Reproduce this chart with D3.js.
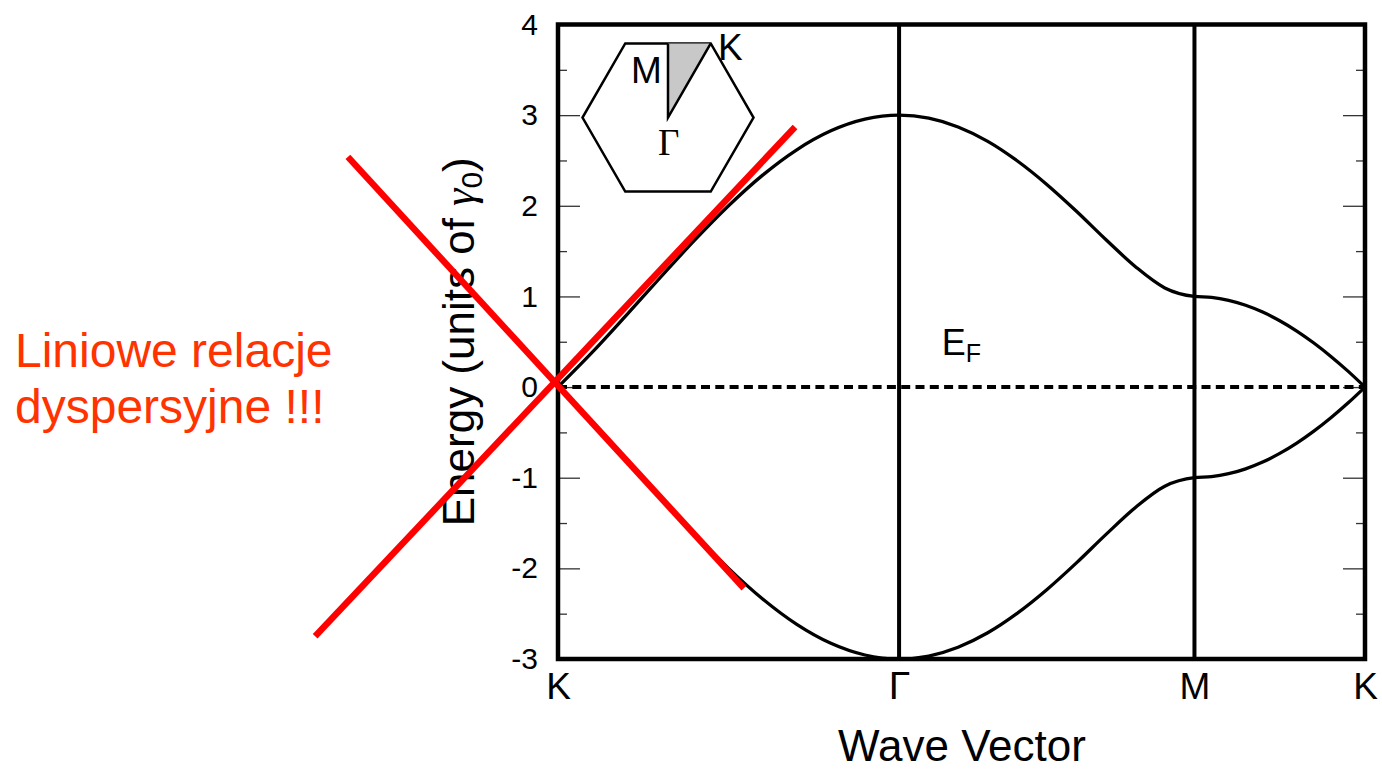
<!DOCTYPE html>
<html>
<head>
<meta charset="utf-8">
<script src="https://cdn.jsdelivr.net/npm/d3@7"></script>
<style>
  html, body { margin: 0; padding: 0; background: #ffffff; }
  svg { display: block; }
  text { font-family: "Liberation Sans", Arial, sans-serif; fill: #000; }
  .serif { font-family: "Liberation Serif", "Times New Roman", serif; }
</style>
</head>
<body>
<svg id="chart" width="1382" height="771"></svg>
<script>
// Path through the Brillouin zone, in units of |ΓK|: K -> Γ -> M -> K
const kPath = [
  0, 0.1, 0.2, 0.3, 0.4, 0.5, 0.6, 0.7, 0.8, 0.9, 1.0,
  1.087, 1.173, 1.260, 1.346, 1.433, 1.520, 1.606, 1.693, 1.779, 1.866,
  1.916, 1.966, 2.016, 2.066, 2.116, 2.166, 2.216, 2.266, 2.316, 2.366
];
// π* band (units of γ0)
const conduction = [
  0, 0.382, 0.791, 1.209, 1.618, 2.0, 2.338, 2.618, 2.827, 2.956, 3.0,
  2.967, 2.870, 2.711, 2.497, 2.236, 1.940, 1.628, 1.328, 1.094, 1.0,
  0.989, 0.956, 0.902, 0.827, 0.732, 0.618, 0.486, 0.338, 0.176, 0
];
// π band (units of γ0)
const valence = [
  0, -0.382, -0.791, -1.209, -1.618, -2.0, -2.338, -2.618, -2.827, -2.956, -3.0,
  -2.967, -2.870, -2.711, -2.497, -2.236, -1.940, -1.628, -1.328, -1.094, -1.0,
  -0.989, -0.956, -0.902, -0.827, -0.732, -0.618, -0.486, -0.338, -0.176, 0
];
// High-symmetry points
const symLabels = ["K", "Γ", "M", "K"];
const symPositions = [0, 1, 1.866, 2.366];
// Energy axis ticks
const yMajorTicks = [-3, -2, -1, 0, 1, 2, 3, 4];
const yMinorTicks = [-2.5, -1.5, -0.5, 0.5, 1.5, 2.5, 3.5];
// Linear (Dirac cone) dispersion through K, endpoints as [k, E]
const diracLineDown = [[-0.616, 2.54], [0.545, -2.22]];
const diracLineUp = [[-0.712, -2.75], [0.695, 2.87]];
const fermiLevel = 0;

const svg = d3.select("#chart");
const plot = { left: 558, right: 1365, top: 24.5, bottom: 659 };

const x = d3.scaleLinear().domain([0, 2.366]).range([plot.left, plot.right]);
const y = d3.scaleLinear().domain([-3, 4]).range([plot.bottom, plot.top]);

// Inner ticks on left and right
const leftMajor = d3.axisLeft(y).tickValues(yMajorTicks).tickSizeInner(-22).tickSizeOuter(0).tickPadding(20).tickFormat(d => String(d));
const leftMinor = d3.axisLeft(y).tickValues(yMinorTicks).tickSizeInner(-9).tickSizeOuter(0).tickFormat("");
const rightMajor = d3.axisRight(y).tickValues(yMajorTicks).tickSizeInner(-22).tickSizeOuter(0).tickFormat("");
const rightMinor = d3.axisRight(y).tickValues(yMinorTicks).tickSizeInner(-9).tickSizeOuter(0).tickFormat("");

function styleAxis(g) {
  g.select(".domain").remove();
  g.selectAll(".tick line").attr("stroke", "#333").attr("stroke-width", 1.3);
  g.selectAll(".tick text")
    .attr("font-size", 30)
    .attr("font-family", "'Liberation Sans', Arial, sans-serif")
    .attr("fill", "#000");
}

svg.append("g").attr("transform", `translate(${plot.left},0)`).call(leftMajor).call(styleAxis);
svg.append("g").attr("transform", `translate(${plot.left},0)`).call(leftMinor).call(styleAxis);
svg.append("g").attr("transform", `translate(${plot.right},0)`).call(rightMajor).call(styleAxis);
svg.append("g").attr("transform", `translate(${plot.right},0)`).call(rightMinor).call(styleAxis);

// Bottom axis: high-symmetry point labels
const xAxis = d3.axisBottom(x).tickValues(symPositions).tickSize(0)
  .tickFormat((d, i) => symLabels[i]);
const xg = svg.append("g").attr("transform", `translate(0,${plot.bottom})`).call(xAxis);
xg.select(".domain").remove();
xg.selectAll(".tick text")
  .attr("y", 40).attr("dy", 0)
  .attr("fill", "#000")
  .attr("font-family", d => d === 1 ? "'Liberation Serif', 'Times New Roman', serif" : "'Liberation Sans', Arial, sans-serif")
  .attr("font-size", d => d === 1 ? 39 : 37);

// Vertical lines at Γ and M
svg.append("g").selectAll("line")
  .data(symPositions.slice(1, 3))
  .join("line")
  .attr("x1", d => x(d)).attr("x2", d => x(d))
  .attr("y1", y(4)).attr("y2", y(-3))
  .attr("stroke", "#000").attr("stroke-width", 4);

// Fermi level
svg.append("line")
  .attr("x1", x(0)).attr("x2", x(2.366))
  .attr("y1", y(fermiLevel)).attr("y2", y(fermiLevel))
  .attr("stroke", "#000").attr("stroke-width", 4)
  .attr("stroke-dasharray", "9,5.3");

// Bands
const bandLine = d3.line()
  .x((d, i) => x(kPath[i]))
  .y(d => y(d))
  .curve(d3.curveMonotoneX);

svg.append("g").selectAll("path")
  .data([conduction, valence])
  .join("path")
  .attr("d", bandLine)
  .attr("fill", "none")
  .attr("stroke", "#000")
  .attr("stroke-width", 3.3);

// Frame
svg.append("rect")
  .attr("x", plot.left).attr("y", plot.top)
  .attr("width", plot.right - plot.left).attr("height", plot.bottom - plot.top)
  .attr("fill", "none").attr("stroke", "#000").attr("stroke-width", 4.5);

// E_F label
const ef = svg.append("text")
  .attr("x", x(1.125)).attr("y", y(0.35))
  .attr("font-size", 36);
ef.append("tspan").text("E");
ef.append("tspan").attr("dy", 7).attr("font-size", 25).text("F");

// Axis titles
svg.append("text")
  .attr("x", (plot.left + plot.right) / 2 + 0.5)
  .attr("y", 761)
  .attr("text-anchor", "middle")
  .attr("font-size", 44)
  .text("Wave Vector");

const ylab = svg.append("text")
  .attr("transform", `translate(474,${(plot.top + plot.bottom) / 2}) rotate(-90)`)
  .attr("text-anchor", "middle")
  .attr("font-size", 44);
ylab.append("tspan").text("Energy (units of ");
ylab.append("tspan").attr("class", "serif").attr("font-style", "italic").text("γ");
ylab.append("tspan").attr("dy", 8).attr("font-size", 30).text("0");
ylab.append("tspan").attr("dy", -8).text(")");

// Brillouin-zone inset (hexagon with irreducible wedge)
const inset = svg.append("g").attr("transform", "translate(668,117.5)");
const R = 85.5;
const hex = d3.range(6).map(i => [R * Math.cos(i * Math.PI / 3), R * Math.sin(i * Math.PI / 3)]);
inset.append("polygon")
  .attr("points", hex.map(p => p.join(",")).join(" "))
  .attr("fill", "none").attr("stroke", "#000").attr("stroke-width", 2.5);
const gPt = [0, 0], mPt = [0, -R * Math.sqrt(3) / 2], kPt = [R / 2, -R * Math.sqrt(3) / 2];
inset.append("polygon")
  .attr("points", [gPt, mPt, kPt].map(p => p.join(",")).join(" "))
  .attr("fill", "#c8c8c8").attr("stroke", "none");
inset.append("polyline")
  .attr("points", [mPt, gPt, kPt].map(p => p.join(",")).join(" "))
  .attr("fill", "none").attr("stroke", "#000").attr("stroke-width", 2.5);
inset.append("text").attr("x", -37).attr("y", -35).attr("font-size", 37).text("M");
inset.append("text").attr("x", 50).attr("y", -58).attr("font-size", 37).text("K");
inset.append("text").attr("class", "serif").attr("x", -10).attr("y", 37).attr("font-size", 37).text("Γ");

// Linear dispersion near K
const straight = d3.line().x(d => x(d[0])).y(d => y(d[1]));
svg.append("g").selectAll("path")
  .data([diracLineDown, diracLineUp])
  .join("path")
  .attr("d", straight)
  .attr("stroke", "#ff0000")
  .attr("stroke-width", 6.5)
  .attr("fill", "none");

// Annotation
const note = svg.append("text")
  .attr("font-size", 48)
  .style("fill", "#ff3300");
note.append("tspan").attr("x", 15).attr("y", 367).text("Liniowe relacje");
note.append("tspan").attr("x", 15).attr("y", 423).text("dyspersyjne !!!");
</script>
</body>
</html>
